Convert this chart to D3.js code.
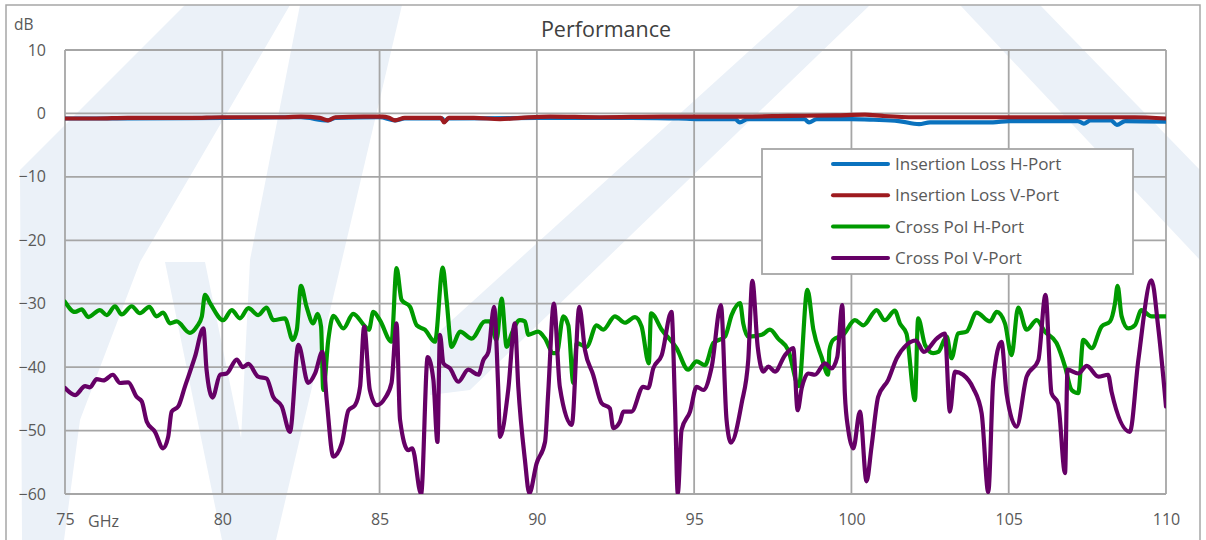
<!DOCTYPE html>
<html><head><meta charset="utf-8">
<script src="https://cdn.jsdelivr.net/npm/d3@7/dist/d3.min.js"></script>
<style>
html,body{margin:0;padding:0;background:#fff;}
svg{display:block;}
text{font-family:"Open Sans",Lato,sans-serif;}
</style></head>
<body><svg id="chart" width="1206" height="540"></svg>
<script>
// ---------- data ----------
const xTicks = [75, 80, 85, 90, 95, 100, 105, 110];
const yTicks = [10, 0, -10, -20, -30, -40, -50, -60];
const seriesNames = ["Insertion Loss H-Port", "Insertion Loss V-Port", "Cross Pol H-Port", "Cross Pol V-Port"];
const seriesColors = ["#0A72BE", "#9E1B1F", "#009A00", "#660066"];

const insertionLossH = [
  [75,-0.8],[77,-0.8],[80,-0.7],[82.5,-0.6],[83.36,-1.1],[83.6,-0.7],[85,-0.6],[85.49,-1.1],[85.8,-0.8],
  [87.0,-0.8],[87.05,-1.3],[87.2,-0.8],[90,-0.7],[93,-0.7],[94.5,-0.8],[95.5,-0.9],[96.3,-0.9],[96.45,-1.4],
  [96.7,-0.9],[98.0,-0.9],[98.5,-0.9],[98.65,-1.4],[98.9,-0.9],[100.0,-0.9],[100.7,-1.0],[101.5,-1.2],
  [102.15,-1.7],[102.5,-1.4],[104.5,-1.4],[105.0,-1.2],[107.2,-1.2],[107.39,-1.6],[107.6,-1.1],[108.25,-1.1],
  [108.44,-1.8],[108.7,-1.2],[110,-1.3]
];
const insertionLossV = [
  [75,-0.8],[76,-0.8],[77,-0.7],[78,-0.7],[79,-0.7],[80,-0.6],[81,-0.6],[82,-0.6],[82.5,-0.5],[83.1,-0.7],
  [83.36,-1.1],[83.6,-0.6],[84.5,-0.5],[85.1,-0.5],[85.3,-0.7],[85.49,-1.1],[85.8,-0.7],[86.5,-0.7],[86.95,-0.7],
  [87.05,-1.4],[87.2,-0.7],[88,-0.7],[88.83,-0.9],[89.5,-0.7],[90.42,-0.5],[92,-0.6],[94,-0.5],[96,-0.5],
  [98,-0.4],[99.5,-0.3],[100.43,-0.2],[101,-0.4],[102,-0.6],[104,-0.6],[106,-0.6],[108,-0.6],[109,-0.6],[110,-0.8]
];
const crossPolH = [
  [75.00,-29.7],[75.32,-31.3],[75.53,-30.9],[75.74,-32.1],[76.11,-31.0],[76.33,-31.8],[76.59,-30.4],[76.80,-31.7],
  [77.12,-30.4],[77.38,-31.5],[77.68,-30.5],[77.91,-32.0],[78.12,-31.4],[78.34,-33.1],[78.55,-32.8],[78.97,-34.6],
  [79.19,-33.6],[79.35,-32.0],[79.45,-28.6],[79.61,-29.9],[80.03,-32.6],[80.30,-31.0],[80.56,-32.3],[80.83,-30.7],
  [81.14,-31.8],[81.41,-30.6],[81.62,-32.6],[81.99,-32.3],[82.24,-35.7],[82.37,-34.1],[82.50,-27.2],[82.68,-30.5],
  [82.89,-33.1],[83.03,-31.6],[83.14,-33.6],[83.21,-43.6],[83.37,-35.7],[83.53,-31.9],[83.85,-33.9],[84.16,-31.6],
  [84.54,-33.6],[84.66,-34.1],[84.80,-31.3],[85.01,-32.6],[85.38,-36.0],[85.54,-24.4],[85.70,-29.4],[85.97,-30.5],
  [86.18,-33.4],[86.44,-34.1],[86.76,-36.0],[87.01,-24.3],[87.13,-29.4],[87.29,-36.8],[87.56,-34.4],[87.93,-35.5],
  [88.35,-32.8],[88.51,-32.8],[88.72,-35.7],[88.88,-29.2],[89.04,-36.8],[89.20,-34.7],[89.46,-32.6],[89.62,-32.8],
  [89.73,-34.9],[90.04,-34.4],[90.26,-35.5],[90.52,-37.8],[90.63,-37.8],[90.84,-32.0],[91.00,-33.4],[91.16,-42.5],
  [91.27,-36.2],[91.58,-36.8],[91.90,-33.4],[92.11,-34.1],[92.48,-32.0],[92.80,-33.0],[93.12,-32.1],[93.33,-33.6],
  [93.56,-39.4],[93.63,-31.5],[93.97,-34.1],[94.44,-37.0],[94.81,-40.4],[95.08,-39.1],[95.34,-39.7],[95.61,-36.2],
  [95.98,-35.2],[96.19,-31.8],[96.46,-29.9],[96.56,-33.1],[96.72,-35.2],[97.15,-34.9],[97.41,-34.1],[97.67,-35.5],
  [97.99,-37.3],[98.33,-43.0],[98.60,-27.8],[98.79,-34.1],[99.05,-38.4],[99.26,-41.2],[99.30,-37.3],[99.42,-35.7],
  [99.74,-34.9],[100.11,-32.6],[100.38,-33.4],[100.80,-31.0],[101.06,-32.6],[101.38,-31.1],[101.54,-33.1],
  [101.75,-34.7],[102.02,-45.2],[102.12,-32.3],[102.34,-36.5],[102.60,-37.8],[102.76,-37.6],[103.03,-35.2],
  [103.18,-38.6],[103.39,-34.7],[103.66,-34.4],[103.98,-31.4],[104.40,-32.8],[104.62,-31.3],[104.88,-33.1],
  [105.09,-38.1],[105.30,-30.6],[105.57,-34.1],[105.89,-32.6],[106.15,-34.4],[106.52,-36.2],[106.79,-39.9],
  [107.00,-43.6],[107.21,-44.1],[107.37,-35.7],[107.64,-37.0],[107.95,-33.6],[108.22,-32.8],[108.38,-29.9],
  [108.46,-27.2],[108.59,-32.0],[108.80,-33.9],[109.01,-33.4],[109.22,-31.0],[109.54,-32.0],[110.00,-32.0]
];
const crossPolV = [
  [75.00,-43.3],[75.32,-44.4],[75.64,-43.0],[75.79,-43.2],[76.01,-41.9],[76.22,-42.1],[76.52,-41.2],[76.75,-42.5],
  [77.01,-42.4],[77.28,-44.7],[77.44,-45.4],[77.60,-48.6],[77.86,-50.2],[78.12,-52.8],[78.28,-51.0],[78.39,-47.0],
  [78.60,-46.2],[78.81,-43.1],[79.13,-38.4],[79.40,-33.9],[79.50,-40.4],[79.69,-44.8],[79.93,-41.2],[80.14,-41.0],
  [80.46,-38.8],[80.65,-40.0],[80.83,-39.5],[81.14,-41.5],[81.41,-41.8],[81.62,-44.7],[81.89,-46.2],[82.15,-50.2],
  [82.42,-36.5],[82.73,-42.5],[82.95,-41.0],[83.18,-37.6],[83.32,-45.2],[83.53,-54.1],[83.80,-52.0],[84.01,-46.8],
  [84.22,-46.0],[84.38,-43.1],[84.51,-33.6],[84.69,-43.6],[84.91,-46.0],[85.17,-44.9],[85.38,-42.5],[85.54,-33.1],
  [85.65,-48.3],[85.91,-53.1],[86.04,-52.8],[86.32,-60.0],[86.53,-38.4],[86.71,-42.0],[86.84,-51.8],[86.92,-34.9],
  [87.03,-39.4],[87.24,-40.2],[87.50,-42.3],[87.82,-40.4],[88.14,-41.2],[88.30,-38.9],[88.46,-37.6],[88.64,-30.5],
  [88.77,-43.1],[88.83,-51.0],[89.09,-43.6],[89.30,-33.1],[89.41,-43.1],[89.62,-54.6],[89.76,-59.9],[89.99,-55.2],
  [90.26,-51.8],[90.36,-44.1],[90.54,-30.0],[90.73,-43.1],[91.11,-49.1],[91.35,-30.5],[91.53,-37.3],[91.79,-41.2],
  [92.06,-45.7],[92.32,-46.5],[92.43,-49.6],[92.64,-48.6],[92.75,-47.0],[93.01,-47.0],[93.38,-43.1],[93.54,-43.3],
  [93.70,-40.2],[93.97,-38.1],[94.28,-31.3],[94.39,-45.7],[94.48,-59.9],[94.60,-49.9],[94.87,-47.0],[95.08,-43.1],
  [95.29,-43.6],[95.56,-39.9],[95.85,-30.2],[96.03,-48.3],[96.17,-51.9],[96.51,-45.7],[96.72,-38.9],[96.85,-26.4],
  [97.02,-36.8],[97.20,-40.7],[97.36,-39.9],[97.57,-40.7],[97.89,-38.1],[98.15,-37.0],[98.29,-46.8],[98.42,-43.3],
  [98.63,-41.0],[98.84,-41.2],[99.16,-39.4],[99.37,-40.2],[99.55,-38.4],[99.71,-30.2],[99.79,-44.1],[99.90,-49.9],
  [100.06,-52.8],[100.27,-47.0],[100.48,-58.0],[100.64,-52.5],[100.85,-44.7],[101.17,-42.0],[101.44,-38.6],
  [101.75,-36.5],[102.05,-35.8],[102.30,-37.6],[102.71,-35.5],[102.97,-34.7],[103.13,-47.0],[103.29,-40.7],
  [103.55,-41.2],[103.87,-43.3],[104.14,-47.3],[104.35,-59.7],[104.51,-42.0],[104.77,-36.0],[104.93,-44.1],
  [105.25,-49.4],[105.57,-41.5],[105.94,-38.9],[106.17,-28.6],[106.36,-44.1],[106.57,-45.7],[106.79,-56.7],
  [106.87,-40.4],[107.21,-41.0],[107.48,-39.8],[107.85,-41.5],[108.16,-41.2],[108.27,-43.9],[108.85,-50.2],
  [109.12,-38.9],[109.54,-26.3],[109.75,-33.6],[110.00,-46.2]
];
const allSeries = [insertionLossH, insertionLossV, crossPolH, crossPolV];

// ---------- layout ----------
const plot = {left: 65, top: 50, right: 1166, bottom: 494};
const svg = d3.select("#chart");
const fontStack = "'Open Sans',Lato,sans-serif";

// watermark (decorative background logo)
const wm = svg.append("g").attr("fill", "#EBF1F8");
[
  [[20,170],[185,5],[290,5],[140,262],[80,420],[64,540],[22,540]],
  [[165,262],[205,262],[262,540],[222,540]],
  [[300,5],[402,5],[276,540],[236,540],[250,260]],
  [[800,5],[870,5],[470,390],[430,395],[430,340]],
  [[960,5],[1040,5],[1200,170],[1200,260]]
].forEach(p => wm.append("path").attr("d", d3.line()(p) + "Z"));

// outer frame
svg.append("rect").attr("x", 6).attr("y", 5).attr("width", 1194).attr("height", 560)
  .attr("fill", "none").attr("stroke", "#A6A6A6").attr("stroke-width", 1.5);

const x = d3.scaleLinear().domain([75, 110]).range([plot.left, plot.right]);
const y = d3.scaleLinear().domain([-60, 10]).range([plot.bottom, plot.top]);

// grid
const grid = svg.append("g").attr("stroke", "#A6A6A6").attr("stroke-width", 1.8);
xTicks.forEach(t => grid.append("line").attr("x1", x(t)).attr("x2", x(t)).attr("y1", plot.top).attr("y2", plot.bottom));
yTicks.forEach(t => grid.append("line").attr("x1", plot.left).attr("x2", plot.right).attr("y1", y(t)).attr("y2", y(t)));

// axes (labels only)
const xAxis = d3.axisBottom(x).tickValues(xTicks).tickSize(0).tickPadding(20).tickFormat(d3.format("d"));
const gx = svg.append("g").attr("transform", `translate(0,${plot.bottom})`).call(xAxis);
gx.select(".domain").remove();
gx.selectAll("text").attr("fill", "#595959").style("font-size", "16px").style("font-family", fontStack);

const yAxis = d3.axisLeft(y).tickValues(yTicks).tickSize(0).tickPadding(19).tickFormat(d3.format("d"));
const gy = svg.append("g").attr("transform", `translate(${plot.left},0)`).call(yAxis);
gy.select(".domain").remove();
gy.selectAll("text").attr("fill", "#595959").style("font-size", "16px").style("font-family", fontStack);

svg.append("text").attr("x", 14).attr("y", 30).text("dB").attr("fill", "#595959").style("font-size", "15.5px");
svg.append("text").attr("x", 88).attr("y", 527).text("GHz").attr("fill", "#595959").style("font-size", "16px");
svg.append("text").attr("x", 606).attr("y", 37).attr("text-anchor", "middle").text("Performance")
  .attr("fill", "#404040").style("font-size", "21.5px");

// series
svg.append("clipPath").attr("id", "clip").append("rect")
  .attr("x", plot.left).attr("y", plot.top - 5).attr("width", plot.right - plot.left).attr("height", plot.bottom - plot.top + 5);
const line = d3.line().x(d => x(d[0])).y(d => y(d[1])).curve(d3.curveMonotoneX);
const gs = svg.append("g").attr("clip-path", "url(#clip)");
allSeries.forEach((s, i) => {
  gs.append("path").datum(s).attr("d", line).attr("fill", "none")
    .attr("stroke", seriesColors[i]).attr("stroke-width", 4.2)
    .attr("stroke-linejoin", "round").attr("stroke-linecap", "round");
});

// legend
const lg = svg.append("g");
lg.append("rect").attr("x", 762).attr("y", 149).attr("width", 371).attr("height", 125)
  .attr("fill", "#fff").attr("stroke", "#A6A6A6").attr("stroke-width", 1.8);
seriesNames.forEach((n, i) => {
  const yy = 164 + i * 31.3;
  lg.append("line").attr("x1", 833).attr("x2", 888).attr("y1", yy).attr("y2", yy)
    .attr("stroke", seriesColors[i]).attr("stroke-width", 4).attr("stroke-linecap", "round");
  lg.append("text").attr("x", 895).attr("y", yy + 6).text(n).attr("fill", "#595959").style("font-size", "17px");
});
</script></body></html>
